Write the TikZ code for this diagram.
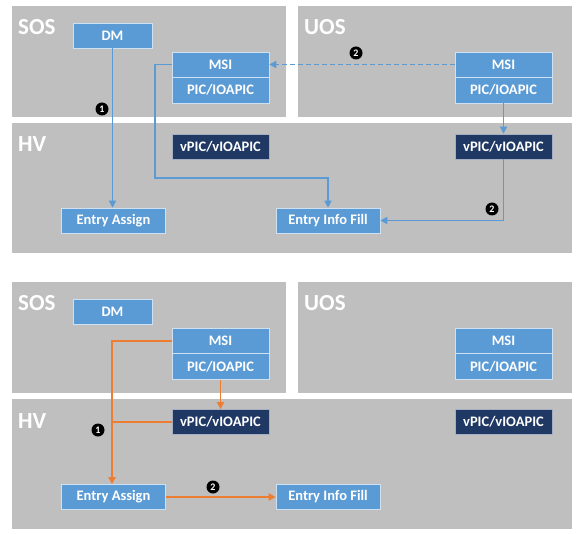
\documentclass[tikz,border=0pt]{standalone}
\usepackage{fontspec}
\setmainfont{Carlito}
\usetikzlibrary{arrows.meta}
\definecolor{panelgray}{HTML}{BFBFBF}
\definecolor{boxblue}{HTML}{5B9BD5}
\definecolor{boxnavy}{HTML}{1F3864}
\definecolor{flowblue}{HTML}{5B9BD5}
\definecolor{floworange}{HTML}{ED7D31}
\tikzset{>={Triangle[length=7pt,width=7pt]}}
\tikzset{
  panel/.style={fill=panelgray, draw=none},
  paneltitle/.style={anchor=west, text=white, font=\fontsize{23}{23}\selectfont\bfseries, inner sep=0pt},
  unitbox/.style={fill=boxblue, draw=white!70!boxblue, line width=0.6pt, text=white,
    font=\fontsize{14.5}{15}\selectfont\bfseries, minimum height=25pt, inner sep=0pt},
  virtbox/.style={unitbox, fill=boxnavy, draw=white!60!boxnavy},
  stepmark/.style={circle, fill=black, text=white, inner sep=0pt, minimum size=13pt,
    font=\fontsize{10}{10}\selectfont\bfseries},
  blueflow/.style={->, draw=flowblue, line width=1.4pt},
  orangeflow/.style={->, draw=floworange, line width=1.8pt},
}

\begin{document}
\begin{tikzpicture}[x=1pt, y=-1pt]
      \useasboundingbox[fill=white] (0,0) rectangle (577,534);
      % upper half
      \fill[panel] (12,6) rectangle (286,117);
      \fill[panel] (298,6) rectangle (572,117);
      \fill[panel] (12,123) rectangle (572,253);
      \node[paneltitle] (sosA) at (18,27) {SOS};
      \node[paneltitle] (uosA) at (304,27) {UOS};
      \node[paneltitle] (hvA) at (18,144) {HV};
      \node[unitbox, minimum width=79pt] (dmA) at (112.5,35.5) {DM};
      \node[unitbox, minimum width=97pt] (msiA) at (220.5,64.5) {MSI};
      \node[unitbox, minimum width=97pt, minimum height=26pt] (picA) at (220.5,90) {PIC/IOAPIC};
      \node[virtbox, minimum width=97pt] (vpicA) at (220.5,146.5) {vPIC/vIOAPIC};
      \node[unitbox, minimum width=97pt] (msiB) at (503.5,64.5) {MSI};
      \node[unitbox, minimum width=97pt, minimum height=26pt] (picB) at (503.5,90) {PIC/IOAPIC};
      \node[virtbox, minimum width=97pt] (vpicB) at (503.5,146.5) {vPIC/vIOAPIC};
      \node[unitbox, minimum width=104pt] (eaA) at (113.5,220.5) {Entry Assign};
      \node[unitbox, minimum width=104pt] (eifA) at (328,220.5) {Entry Info Fill};
      \coordinate (turnA) at (155,178);
      \draw[blueflow] (dmA.south) -- (dmA.south |- eaA.north);
      \draw[blueflow] (msiA.west) -| (turnA) -| (eifA.north);
      \draw[blueflow, dashed, dash pattern=on 5pt off 3pt] (msiB.west) -- (msiA.east);
      \draw[blueflow] (picB.south) -- (vpicB.north);
      \draw[blueflow] (vpicB.south) |- (eifA.east);
      \node[stepmark] (m1A) at (102,109) {1};
      \node[stepmark] (m2A) at (356,53) {2};
      \node[stepmark] (m3A) at (492,209) {2};
      % lower half
      \fill[panel] (12,282) rectangle (286,393);
      \fill[panel] (298,282) rectangle (572,393);
      \fill[panel] (12,399) rectangle (572,529);
      \node[paneltitle] (sosC) at (18,303) {SOS};
      \node[paneltitle] (uosC) at (304,303) {UOS};
      \node[paneltitle] (hvC) at (18,421) {HV};
      \node[unitbox, minimum width=79pt] (dmC) at (112.5,311.5) {DM};
      \node[unitbox, minimum width=97pt] (msiC) at (220.5,341) {MSI};
      \node[unitbox, minimum width=97pt, minimum height=26pt] (picC) at (220.5,366.5) {PIC/IOAPIC};
      \node[virtbox, minimum width=97pt] (vpicC) at (220.5,422) {vPIC/vIOAPIC};
      \node[unitbox, minimum width=97pt] (msiD) at (503.5,341) {MSI};
      \node[unitbox, minimum width=97pt, minimum height=26pt] (picD) at (503.5,366.5) {PIC/IOAPIC};
      \node[virtbox, minimum width=97pt] (vpicD) at (503.5,422) {vPIC/vIOAPIC};
      \node[unitbox, minimum width=104pt] (eaC) at (113.5,497) {Entry Assign};
      \node[unitbox, minimum width=104pt] (eifC) at (328,497) {Entry Info Fill};
      \coordinate (turnC) at (112,341);
      \draw[orangeflow] (msiC.west) -- (turnC) -- (turnC |- eaC.north);
      \draw[orangeflow, -] (vpicC.west) -- (vpicC.west -| turnC);
      \draw[orangeflow] (picC.south) -- (vpicC.north);
      \draw[orangeflow] (eaC.east) -- (eifC.west);
      \node[stepmark] (m1C) at (98,430) {1};
      \node[stepmark] (m2C) at (213,487) {2};
    \end{tikzpicture}
\end{document}
